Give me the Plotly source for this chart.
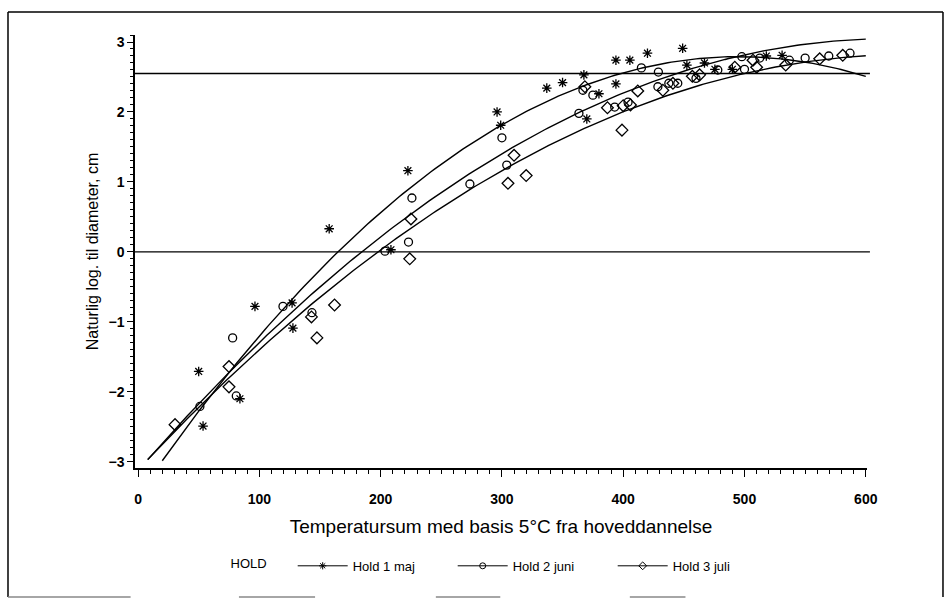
import numpy as np
import plotly.graph_objects as go

# Hold 1 maj (stjerner)
hold1_x = [50, 53.6, 84, 96.4, 127, 127.7, 157.6, 208.5, 222.5, 296, 299, 337, 350,
           367.6, 370, 380, 394, 394, 405.5, 420, 449, 452.5, 467, 475.6, 490, 518, 531]
hold1_y = [-1.71, -2.49, -2.10, -0.78, -0.73, -1.09, 0.33, 0.03, 1.16, 2.00, 1.81, 2.34, 2.42,
           2.53, 1.90, 2.26, 2.74, 2.40, 2.74, 2.84, 2.91, 2.67, 2.70, 2.61, 2.61, 2.80, 2.81]

# Hold 2 juni (cirkler)
hold2_x = [51, 78, 81, 119.5, 143.4, 203.6, 223, 225.8, 273.6, 300, 304, 363.5, 366.8,
           375, 393, 404, 415, 429, 428.6, 437.6, 445, 460, 478, 497.8, 500, 512.6,
           537, 550, 569.5, 587]
hold2_y = [-2.21, -1.23, -2.06, -0.78, -0.87, 0.01, 0.14, 0.77, 0.97, 1.63, 1.24, 1.98, 2.31,
           2.24, 2.07, 2.14, 2.63, 2.57, 2.36, 2.41, 2.41, 2.48, 2.60, 2.79, 2.61, 2.77,
           2.74, 2.77, 2.80, 2.84]

# Hold 3 juli (ruder)
hold3_x = [30.5, 75, 75, 143, 147.5, 162, 225, 224, 305, 310, 320, 368.4, 387, 399, 400,
           406, 412, 432.7, 441, 457, 463, 492, 510, 507, 534, 562, 581]
hold3_y = [-2.47, -1.64, -1.93, -0.93, -1.23, -0.76, 0.47, -0.10, 0.98, 1.38, 1.09, 2.36, 2.06,
           1.74, 2.09, 2.10, 2.30, 2.31, 2.41, 2.51, 2.53, 2.64, 2.64, 2.74, 2.67, 2.76, 2.81]

# Kvadratiske regressionskurver y = a + b*x + c*x^2 og deres x-interval
fit_hold1 = [-3.4826, 0.025344, -2.56e-5]
fit_hold2 = [-3.1284, 0.019928, -1.6077e-5]
fit_hold3 = [-3.1184, 0.018665, -1.4659e-5]
range_hold1 = [20, 600]
range_hold2 = [8, 600]
range_hold3 = [8, 600]

# Vandrette referencelinjer
ref_levels = [0, 2.55]

series_names = ["Hold 1 maj", "Hold 2 juni", "Hold 3 juli"]
x_title = "Temperatursum med basis 5\u00b0C fra hoveddannelse"
y_title = "Naturlig log. til diameter, cm"

FONT = "Liberation Sans, Arial, sans-serif"
INK = "black"

groups = [
    (hold1_x, hold1_y, fit_hold1, range_hold1, "asterisk-open", 8),
    (hold2_x, hold2_y, fit_hold2, range_hold2, "circle-open", 8),
    (hold3_x, hold3_y, fit_hold3, range_hold3, "diamond-open", 9),
]

fig = go.Figure()

for name, (gx, gy, coef, rng, sym, size) in zip(series_names, groups):
    a, b, c = coef
    xs = np.linspace(rng[0], rng[1], 200)
    ys = a + b * xs + c * xs ** 2
    fig.add_trace(go.Scatter(x=xs, y=ys, mode="lines",
                             line=dict(color=INK, width=1.4),
                             showlegend=False, hoverinfo="skip"))
    fig.add_trace(go.Scatter(x=gx, y=gy, mode="markers",
                             marker=dict(symbol=sym, size=size, color=INK,
                                         line=dict(color=INK, width=1.3)),
                             showlegend=False, name=name))
    # legend entry: line with symbol
    fig.add_trace(go.Scatter(x=[None], y=[None], mode="lines+markers", name=name,
                             line=dict(color=INK, width=1),
                             marker=dict(symbol=sym, size=6, color=INK,
                                         line=dict(color=INK, width=1))))

for lvl in ref_levels:
    fig.add_shape(type="line", xref="paper", yref="y", x0=0, x1=1.004,
                  y0=lvl, y1=lvl, line=dict(color=INK, width=1.4))

# outer frame
fig.add_shape(type="line", xref="paper", yref="paper", x0=-0.1735, x1=1.1038,
              y0=1.053, y1=1.053, line=dict(color=INK, width=1.5))
fig.add_shape(type="line", xref="paper", yref="paper", x0=-0.1735, x1=-0.1735,
              y0=1.053, y1=-0.298, line=dict(color=INK, width=1.5))
fig.add_shape(type="line", xref="paper", yref="paper", x0=1.1038, x1=1.1038,
              y0=1.053, y1=-0.298, line=dict(color=INK, width=1.5))
for s0, s1 in [(-0.1735, -0.006), (0.142, 0.246), (0.411, 0.499), (0.676, 0.752)]:
    fig.add_shape(type="line", xref="paper", yref="paper", x0=s0, x1=s1,
                  y0=-0.298, y1=-0.298, line=dict(color="#888888", width=1.5))

fig.update_xaxes(range=[-2.5, 601], tickmode="array",
                 tickvals=[0, 100, 200, 300, 400, 500, 600],
                 ticks="outside", ticklen=7, tickwidth=1.3, tickcolor=INK,
                 ticklabelstandoff=10,
                 minor=dict(dtick=10, tick0=0, ticks="outside", ticklen=4,
                            tickwidth=1, tickcolor=INK, showgrid=False),
                 showline=True, linecolor=INK, linewidth=1.5,
                 showgrid=False, zeroline=False,
                 tickfont=dict(family=FONT, size=14, color=INK, weight="bold"),
                 title=dict(text=x_title, standoff=14,
                            font=dict(family=FONT, size=19, color=INK)))
fig.update_yaxes(range=[-3.09, 3.1], tickmode="array",
                 tickvals=[-3, -2, -1, 0, 1, 2, 3],
                 ticktext=["\u22123", "\u22122", "\u22121", "0", "1", "2", "3"],
                 ticks="outside", ticklen=6, tickwidth=1.3, tickcolor=INK,
                 minor=dict(dtick=0.1, tick0=0, ticks="outside", ticklen=3,
                            tickwidth=1, tickcolor=INK, showgrid=False),
                 showline=True, linecolor=INK, linewidth=1.5,
                 showgrid=False, zeroline=False,
                 tickfont=dict(family=FONT, size=14, color=INK, weight="bold"),
                 title=dict(text=y_title, standoff=6,
                            font=dict(family=FONT, size=16, color=INK)))

fig.update_layout(
    width=951, height=601,
    margin=dict(l=135, r=84, t=35, b=133),
    paper_bgcolor="white", plot_bgcolor="white",
    font=dict(family=FONT, color=INK),
    legend=dict(orientation="h", x=0.5, xanchor="center", y=-0.226, yanchor="middle",
                title=dict(text="HOLD\u00a0\u00a0\u00a0\u00a0\u00a0", side="left",
                           font=dict(family=FONT, size=13, color=INK)),
                font=dict(family=FONT, size=13, color=INK),
                itemwidth=50, entrywidth=95, entrywidthmode="pixels",
                valign="middle", bgcolor="rgba(0,0,0,0)"),
)

fig.write_html("out.html")
